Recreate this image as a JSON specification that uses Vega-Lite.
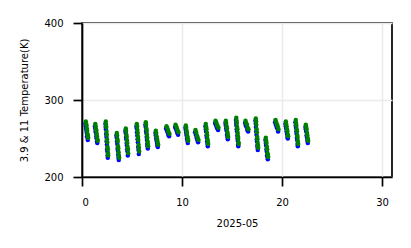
{
  "$schema": "https://vega.github.io/schema/vega-lite/v6.json",
  "width": 310,
  "height": 154,
  "autosize": {"type": "none"},
  "padding": {"left": 82, "top": 23, "right": 19, "bottom": 71},
  "background": "white",
  "config": {
    "view": {"stroke": "black", "strokeWidth": 1.7},
    "font": "DejaVu Sans",
    "axis": {
      "domainColor": "black",
      "domainWidth": 1.7,
      "tickColor": "black",
      "tickWidth": 1.7,
      "tickSize": 9,
      "labelFontSize": 10,
      "labelColor": "black",
      "labelFont": "DejaVu Sans",
      "titleFont": "DejaVu Sans",
      "titleFontSize": 10,
      "titleFontWeight": "normal",
      "titleColor": "black",
      "gridColor": "#ebebeb",
      "gridWidth": 1.5
    }
  },
  "datasets": {
    "blue": [
      {"d":0.34,"t":269},{"d":0.38,"t":266},{"d":0.41,"t":263},{"d":0.45,"t":260},{"d":0.48,"t":257},{"d":0.51,"t":253},{"d":0.55,"t":251},{"d":0.58,"t":248},
      {"d":1.29,"t":266},{"d":1.33,"t":263},{"d":1.36,"t":259},{"d":1.40,"t":257},{"d":1.43,"t":253},{"d":1.46,"t":250},{"d":1.50,"t":246},{"d":1.53,"t":244},
      {"d":2.34,"t":269},{"d":2.36,"t":265},{"d":2.39,"t":262},{"d":2.41,"t":256},{"d":2.44,"t":252},{"d":2.46,"t":246},{"d":2.49,"t":242},{"d":2.51,"t":236},{"d":2.54,"t":233},{"d":2.56,"t":228},{"d":2.58,"t":225},
      {"d":3.44,"t":254},{"d":3.47,"t":251},{"d":3.50,"t":246},{"d":3.53,"t":243},{"d":3.56,"t":237},{"d":3.59,"t":234},{"d":3.62,"t":229},{"d":3.65,"t":225},{"d":3.68,"t":222},
      {"d":4.34,"t":260},{"d":4.37,"t":257},{"d":4.40,"t":252},{"d":4.43,"t":249},{"d":4.46,"t":244},{"d":4.49,"t":241},{"d":4.52,"t":236},{"d":4.55,"t":233},{"d":4.58,"t":228},
      {"d":5.44,"t":266},{"d":5.47,"t":263},{"d":5.50,"t":258},{"d":5.53,"t":254},{"d":5.56,"t":249},{"d":5.59,"t":245},{"d":5.62,"t":239},{"d":5.65,"t":235},{"d":5.68,"t":230},
      {"d":6.34,"t":268},{"d":6.37,"t":265},{"d":6.40,"t":260},{"d":6.43,"t":257},{"d":6.46,"t":252},{"d":6.49,"t":248},{"d":6.52,"t":243},{"d":6.55,"t":240},{"d":6.58,"t":237},
      {"d":7.34,"t":257},{"d":7.38,"t":254},{"d":7.42,"t":250},{"d":7.46,"t":247},{"d":7.50,"t":244},{"d":7.54,"t":241},{"d":7.58,"t":239},
      {"d":8.41,"t":263},{"d":8.48,"t":261},{"d":8.56,"t":258},{"d":8.63,"t":255},{"d":8.71,"t":253},
      {"d":9.31,"t":265},{"d":9.38,"t":263},{"d":9.46,"t":260},{"d":9.53,"t":257},{"d":9.61,"t":255},
      {"d":10.34,"t":264},{"d":10.38,"t":261},{"d":10.42,"t":257},{"d":10.46,"t":254},{"d":10.50,"t":250},{"d":10.54,"t":247},{"d":10.58,"t":244},
      {"d":11.31,"t":258},{"d":11.38,"t":255},{"d":11.46,"t":251},{"d":11.53,"t":248},{"d":11.61,"t":245},
      {"d":12.34,"t":266},{"d":12.38,"t":262},{"d":12.41,"t":259},{"d":12.45,"t":254},{"d":12.48,"t":251},{"d":12.51,"t":246},{"d":12.55,"t":243},{"d":12.58,"t":240},
      {"d":13.31,"t":270},{"d":13.38,"t":268},{"d":13.46,"t":265},{"d":13.53,"t":263},{"d":13.61,"t":261},
      {"d":14.34,"t":270},{"d":14.38,"t":267},{"d":14.42,"t":263},{"d":14.46,"t":260},{"d":14.50,"t":255},{"d":14.54,"t":252},{"d":14.58,"t":249},
      {"d":15.39,"t":274},{"d":15.42,"t":270},{"d":15.44,"t":267},{"d":15.47,"t":262},{"d":15.50,"t":259},{"d":15.53,"t":254},{"d":15.55,"t":250},{"d":15.58,"t":247},{"d":15.61,"t":242},{"d":15.63,"t":240},
      {"d":16.31,"t":270},{"d":16.38,"t":267},{"d":16.46,"t":265},{"d":16.53,"t":261},{"d":16.61,"t":259},
      {"d":17.34,"t":273},{"d":17.37,"t":269},{"d":17.39,"t":265},{"d":17.42,"t":259},{"d":17.45,"t":255},{"d":17.48,"t":249},{"d":17.50,"t":246},{"d":17.53,"t":241},{"d":17.56,"t":238},{"d":17.58,"t":235},
      {"d":18.34,"t":248},{"d":18.38,"t":244},{"d":18.41,"t":241},{"d":18.45,"t":236},{"d":18.48,"t":233},{"d":18.51,"t":228},{"d":18.55,"t":226},{"d":18.58,"t":223},
      {"d":19.31,"t":271},{"d":19.38,"t":268},{"d":19.46,"t":265},{"d":19.53,"t":263},{"d":19.61,"t":259},
      {"d":20.34,"t":269},{"d":20.38,"t":266},{"d":20.42,"t":263},{"d":20.46,"t":259},{"d":20.50,"t":256},{"d":20.54,"t":252},{"d":20.58,"t":250},
      {"d":21.34,"t":271},{"d":21.37,"t":267},{"d":21.40,"t":264},{"d":21.43,"t":259},{"d":21.46,"t":256},{"d":21.49,"t":251},{"d":21.52,"t":248},{"d":21.55,"t":243},{"d":21.58,"t":240},
      {"d":22.34,"t":265},{"d":22.38,"t":262},{"d":22.42,"t":259},{"d":22.46,"t":254},{"d":22.50,"t":251},{"d":22.54,"t":247},{"d":22.58,"t":244}
    ],
    "green": [
      {"d":0.38,"t":272},{"d":0.42,"t":269},{"d":0.45,"t":267},{"d":0.49,"t":263},{"d":0.52,"t":260},{"d":0.55,"t":256},{"d":0.59,"t":254},{"d":0.62,"t":251},
      {"d":1.33,"t":269},{"d":1.37,"t":266},{"d":1.40,"t":262},{"d":1.44,"t":260},{"d":1.47,"t":256},{"d":1.50,"t":253},{"d":1.54,"t":249},{"d":1.57,"t":247},
      {"d":2.38,"t":272},{"d":2.40,"t":268},{"d":2.43,"t":265},{"d":2.45,"t":259},{"d":2.48,"t":255},{"d":2.50,"t":249},{"d":2.53,"t":245},{"d":2.55,"t":239},{"d":2.58,"t":236},{"d":2.60,"t":231},{"d":2.62,"t":228},
      {"d":3.48,"t":257},{"d":3.51,"t":254},{"d":3.54,"t":249},{"d":3.57,"t":246},{"d":3.60,"t":240},{"d":3.63,"t":237},{"d":3.66,"t":232},{"d":3.69,"t":228},{"d":3.72,"t":225},
      {"d":4.38,"t":263},{"d":4.41,"t":260},{"d":4.44,"t":255},{"d":4.47,"t":252},{"d":4.50,"t":247},{"d":4.53,"t":244},{"d":4.56,"t":239},{"d":4.59,"t":236},{"d":4.62,"t":231},
      {"d":5.48,"t":269},{"d":5.51,"t":266},{"d":5.54,"t":261},{"d":5.57,"t":257},{"d":5.60,"t":252},{"d":5.63,"t":248},{"d":5.66,"t":242},{"d":5.69,"t":238},{"d":5.72,"t":233},
      {"d":6.38,"t":271},{"d":6.41,"t":268},{"d":6.44,"t":263},{"d":6.47,"t":260},{"d":6.50,"t":255},{"d":6.53,"t":251},{"d":6.56,"t":246},{"d":6.59,"t":243},{"d":6.62,"t":240},
      {"d":7.38,"t":260},{"d":7.42,"t":257},{"d":7.46,"t":253},{"d":7.50,"t":250},{"d":7.54,"t":247},{"d":7.58,"t":244},{"d":7.62,"t":242},
      {"d":8.45,"t":266},{"d":8.52,"t":264},{"d":8.60,"t":261},{"d":8.67,"t":258},{"d":8.75,"t":256},
      {"d":9.35,"t":268},{"d":9.42,"t":266},{"d":9.50,"t":263},{"d":9.57,"t":260},{"d":9.65,"t":258},
      {"d":10.38,"t":267},{"d":10.42,"t":264},{"d":10.46,"t":260},{"d":10.50,"t":257},{"d":10.54,"t":253},{"d":10.58,"t":250},{"d":10.62,"t":247},
      {"d":11.35,"t":261},{"d":11.42,"t":258},{"d":11.50,"t":254},{"d":11.57,"t":251},{"d":11.65,"t":248},
      {"d":12.38,"t":269},{"d":12.42,"t":265},{"d":12.45,"t":262},{"d":12.49,"t":257},{"d":12.52,"t":254},{"d":12.55,"t":249},{"d":12.59,"t":246},{"d":12.62,"t":243},
      {"d":13.35,"t":273},{"d":13.42,"t":271},{"d":13.50,"t":268},{"d":13.57,"t":266},{"d":13.65,"t":264},
      {"d":14.38,"t":273},{"d":14.42,"t":270},{"d":14.46,"t":266},{"d":14.50,"t":263},{"d":14.54,"t":258},{"d":14.58,"t":255},{"d":14.62,"t":252},
      {"d":15.43,"t":277},{"d":15.46,"t":273},{"d":15.48,"t":270},{"d":15.51,"t":265},{"d":15.54,"t":262},{"d":15.57,"t":257},{"d":15.59,"t":253},{"d":15.62,"t":250},{"d":15.65,"t":245},{"d":15.67,"t":243},
      {"d":16.35,"t":273},{"d":16.42,"t":270},{"d":16.50,"t":268},{"d":16.57,"t":264},{"d":16.65,"t":262},
      {"d":17.38,"t":276},{"d":17.41,"t":272},{"d":17.43,"t":268},{"d":17.46,"t":262},{"d":17.49,"t":258},{"d":17.52,"t":252},{"d":17.54,"t":249},{"d":17.57,"t":244},{"d":17.60,"t":241},{"d":17.62,"t":238},
      {"d":18.38,"t":251},{"d":18.42,"t":247},{"d":18.45,"t":244},{"d":18.49,"t":239},{"d":18.52,"t":236},{"d":18.55,"t":231},{"d":18.59,"t":229},{"d":18.62,"t":226},
      {"d":19.35,"t":274},{"d":19.42,"t":271},{"d":19.50,"t":268},{"d":19.57,"t":266},{"d":19.65,"t":262},
      {"d":20.38,"t":272},{"d":20.42,"t":269},{"d":20.46,"t":266},{"d":20.50,"t":262},{"d":20.54,"t":259},{"d":20.58,"t":255},{"d":20.62,"t":253},
      {"d":21.38,"t":274},{"d":21.41,"t":270},{"d":21.44,"t":267},{"d":21.47,"t":262},{"d":21.50,"t":259},{"d":21.53,"t":254},{"d":21.56,"t":251},{"d":21.59,"t":246},{"d":21.62,"t":243},
      {"d":22.38,"t":268},{"d":22.42,"t":265},{"d":22.46,"t":262},{"d":22.50,"t":257},{"d":22.54,"t":254},{"d":22.58,"t":250},{"d":22.62,"t":247}
    ]
  },
  "encoding": {
    "x": {
      "field": "d",
      "type": "quantitative",
      "scale": {"domain": [0, 31], "nice": false, "zero": false},
      "axis": {"values": [0, 10, 20, 30], "title": "2025-05", "labelPadding": 11, "titleY": 46, "titleBaseline": "middle"}
    },
    "y": {
      "field": "t",
      "type": "quantitative",
      "scale": {"domain": [200, 400], "nice": false, "zero": false},
      "axis": {"values": [200, 300, 400], "title": "3.9 & 11 Temperature(K)", "labelPadding": 10, "titleX": -58, "titleBaseline": "middle"}
    }
  },
  "layer": [
    {"data": {"name": "blue"}, "mark": {"type": "point", "filled": true, "shape": "circle", "size": 20, "color": "#0000ff", "opacity": 1}},
    {"data": {"name": "green"}, "mark": {"type": "point", "filled": true, "shape": "circle", "size": 20, "color": "#008000", "opacity": 1}}
  ]
}
